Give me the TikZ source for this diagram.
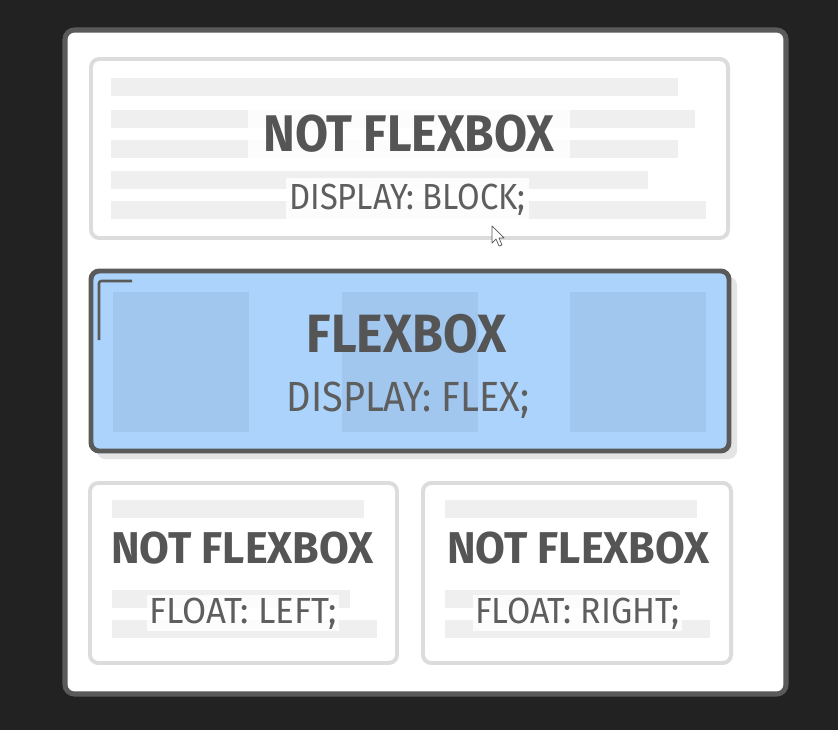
\documentclass[tikz,border=0pt]{standalone}
\usepackage{fontspec}
\setmainfont{Fira Sans}
\usepackage{xcolor}
\definecolor{screen}{HTML}{222222}
\definecolor{panelgray}{HTML}{5A5A5A}
\definecolor{boxgray}{HTML}{DCDCDC}
\definecolor{bargray}{HTML}{EFEFEF}
\definecolor{textgray}{HTML}{555555}
\definecolor{subgray}{HTML}{5E5E5E}
\definecolor{flexblue}{HTML}{ACD3FB}
\definecolor{itemblue}{HTML}{A1C7EE}
\definecolor{shadowgray}{HTML}{E4E4E4}

\begin{document}
\begin{tikzpicture}[x=0.03cm, y=-0.03cm,
    panel/.style={draw=panelgray, line width=4.3pt, fill=white, rounded corners=8},
    plainbox/.style={draw=boxgray, line width=3.4pt, rounded corners=7},
    flexbox/.style={draw=panelgray, line width=4.2pt, fill=flexblue, rounded corners=7},
    bar/.style={fill=bargray},
    item/.style={fill=itemblue},
    title/.style={text=textgray, anchor=base, inner sep=0pt, font=\bfseries\fontsize{44}{44}\selectfont},
    smalltitle/.style={title, font=\bfseries\fontsize{38}{38}\selectfont},
    sub/.style={text=subgray, anchor=base, inner sep=0pt, font=\fontsize{31}{31}\selectfont},
    halo/.style={fill=white, fill opacity=0.85, text opacity=1}]
    % Screen
    \fill[screen] (0,0) rectangle (838,730);
    \useasboundingbox (0,0) rectangle (838,730);
    \draw[panel] (65,30) rectangle (786,694);
    % Block box
    \draw[plainbox] (91,59) rectangle (728,238);
    \foreach \ya/\xb in {78/678, 110/695, 140/678, 171/648, 201/706}
        \fill[bar] (111,\ya) rectangle (\xb,\ya+18);
    \node[title, halo, inner xsep=13pt, inner ysep=6pt] (blocktitle) at (409,151) {\scalebox{0.93}[1]{NOT FLEXBOX}};
    \node[sub, halo, inner xsep=3pt, inner ysep=5pt] (blocksub) at (407.5,209) {\scalebox{0.9}[1]{DISPLAY: BLOCK;}};
    % Flex box
    \fill[shadowgray, rounded corners=7] (97,277) rectangle (737,459);
    \draw[flexbox] (91,271) rectangle (729,451);
    \foreach \xa in {113, 342, 570}
        \fill[item] (\xa,292) rectangle (\xa+136,432);
    \draw[panelgray, line width=2.2pt, rounded corners=2] (99,340) -- (99,281) -- (132,281);
    \node[title, font=\bfseries\fontsize{46}{46}\selectfont] (flextitle) at (406.5,352) {\scalebox{0.93}[1]{FLEXBOX}};
    \node[sub, font=\fontsize{36}{36}\selectfont] (flexsub) at (408,411) {\scalebox{0.9}[1]{DISPLAY: FLEX;}};
    % Float boxes
    \draw[plainbox] (90,483) rectangle (397,663);
    \draw[plainbox] (423,483) rectangle (731,663);
    \foreach \xa/\xb in {112/364, 445/697}
        \fill[bar] (\xa,500) rectangle (\xb,518);
    \foreach \xa/\xb in {112/350, 445/680}
        \fill[bar] (\xa,590) rectangle (\xb,608);
    \foreach \xa/\xb in {112/377, 445/710}
        \fill[bar] (\xa,620) rectangle (\xb,638);
    \node[smalltitle, halo, inner sep=2pt] (lefttitle) at (242.5,563) {\scalebox{0.97}[1]{NOT FLEXBOX}};
    \node[sub, halo, inner sep=2pt] (leftsub) at (243,623) {\scalebox{0.96}[1]{FLOAT: LEFT;}};
    \node[smalltitle, halo, inner sep=2pt] (righttitle) at (578.5,563) {\scalebox{0.97}[1]{NOT FLEXBOX}};
    \node[sub, halo, inner sep=2pt] (rightsub) at (577.5,623) {\scalebox{0.93}[1]{FLOAT: RIGHT;}};
    % Pointer
    \draw[fill=white, draw=textgray, line width=0.6pt, line join=round]
        (492,226) -- (492,243) -- (496,239) -- (499,246) -- (502,245) -- (499,238) -- (504,238) -- cycle;
\end{tikzpicture}
\end{document}
